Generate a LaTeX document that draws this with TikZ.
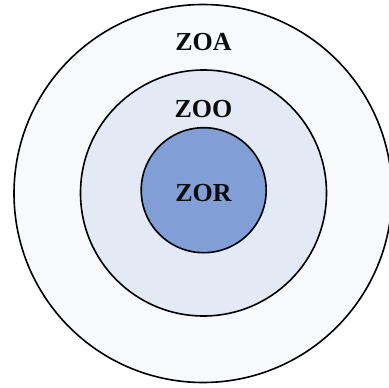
\documentclass[tikz,border=0pt]{standalone}
\usepackage{fontspec}
\setmainfont{Liberation Serif}
\usetikzlibrary{positioning}
\definecolor{zoacol}{HTML}{F7F9FD}
\definecolor{zoocol}{HTML}{E3EAF6}
\definecolor{zorcol}{HTML}{819FD6}
\tikzset{
  zone/.style={circle,draw=black,line width=1.6pt,inner sep=0pt,outer sep=0pt},
  zlabel/.style={font=\fontsize{26}{31}\selectfont\bfseries,text=black!95,inner sep=0pt}
}
\begin{document}
\begin{tikzpicture}[x=1pt,y=-1pt]
  \useasboundingbox (0,0) rectangle (389,388);
  % the three zones, outer to inner
  \node[zone,fill=zoacol,minimum size=378pt] (zoa) at (203,193.5) {};
  \node[zone,fill=zoocol,minimum size=246pt] (zoo) at (203.5,193) {};
  \node[zone,fill=zorcol,minimum size=125pt] (zor) at (203.7,190.2) {};
  % labels
  \node[zlabel] (zortext) at (203.5,193) {ZOR};
  \node[zlabel] (zootext) at (203.5,109) {ZOO};
  \node[zlabel] (zoatext) at (203.5,42.5) {ZOA};
\end{tikzpicture}
\end{document}
